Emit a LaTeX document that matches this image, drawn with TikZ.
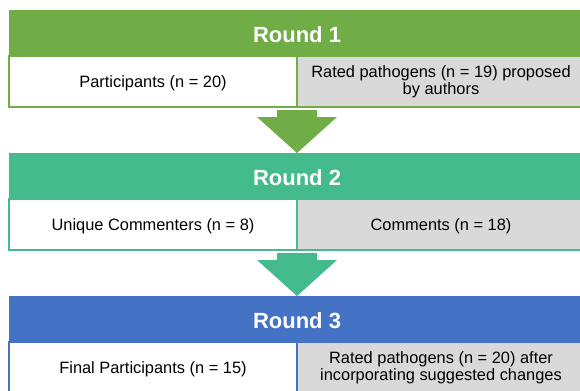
\documentclass[tikz,border=0pt]{standalone}
\usepackage{fontspec}
\setmainfont{Liberation Sans}
\usetikzlibrary{positioning,calc}
\definecolor{roundA}{HTML}{70AD47}
\definecolor{roundB}{HTML}{44BB8C}
\definecolor{roundC}{HTML}{4472C4}
\definecolor{cellgray}{HTML}{D9D9D9}
\begin{document}
\begin{tikzpicture}[x=0.75pt,y=-0.75pt,
  head/.style={fill=#1,text=white,font=\bfseries\fontsize{16.5}{18}\selectfont,
    minimum width=432pt,minimum height=34.5pt,inner sep=0pt,outer sep=0pt,
    text height=14.2pt,text depth=0pt,anchor=north west},
  cell/.style={draw=#1,line width=1.5pt,minimum width=216pt,minimum height=38.25pt,
    inner sep=0pt,outer sep=0pt,align=center,
    font=\fontsize{12.3}{12.9}\selectfont,anchor=north west},
  oneline/.style={text height=12pt},
  blockarrow/.style={fill=#1}]
\useasboundingbox (0,0) rectangle (580,390);
\clip (0,0) rectangle (580,390);
\node[head=roundA] (R1) at (9,10) {Round 1};
\node[cell=roundA,oneline,fill=white] (R1L) at (R1.south west) {Participants (n = 20)};
\node[cell=roundA,fill=cellgray,right=0pt of R1L] (R1R) {Rated pathogens (n = 19) proposed\\by authors};
\node[head=roundB,below right=34.5pt and 0pt of R1L.south west] (R2) {Round 2};
\node[cell=roundB,oneline,fill=white] (R2L) at (R2.south west) {Unique Commenters (n = 8)};
\node[cell=roundB,oneline,fill=cellgray,right=0pt of R2L] (R2R) {Comments (n = 18)};
\node[head=roundC,below right=34.5pt and 0pt of R2L.south west] (R3) {Round 3};
\node[cell=roundC,oneline,fill=white] (R3L) at (R3.south west) {Final Participants (n = 15)};
\node[cell=roundC,fill=cellgray,right=0pt of R3L] (R3R) {Rated pathogens (n = 20) after\\incorporating suggested changes};
\fill[blockarrow=roundA] ($(R1L.south east)+(-20,3)$) -- ++(0,7) -- ++(-20,0) -- (R2.north)
  -- ($(R1L.south east)+(40,10)$) -- ++(-20,0) -- ++(0,-7) -- cycle;
\fill[blockarrow=roundB] ($(R2L.south east)+(-20,3)$) -- ++(0,7) -- ++(-20,0) -- (R3.north)
  -- ($(R2L.south east)+(40,10)$) -- ++(-20,0) -- ++(0,-7) -- cycle;
\end{tikzpicture}
\end{document}
